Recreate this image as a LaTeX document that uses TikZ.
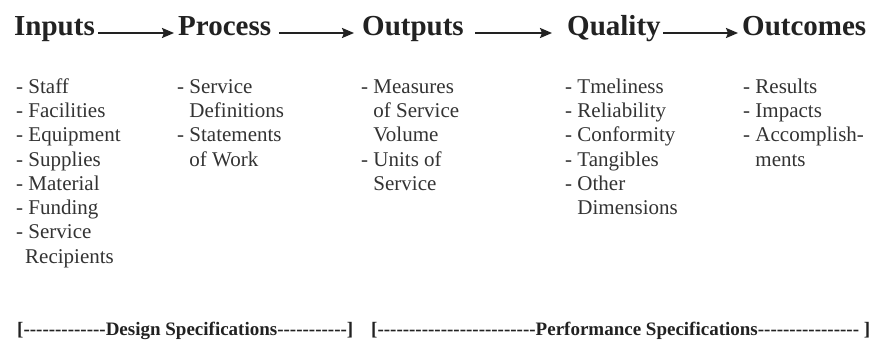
\documentclass[tikz,border=0pt]{standalone}
\usepackage{fontspec}
\setmainfont{Liberation Serif}[Ligatures=TeXOff]
\usetikzlibrary{arrows.meta}
\definecolor{ink}{HTML}{222222}
\definecolor{bodyink}{HTML}{333333}
\begin{document}
\begin{tikzpicture}[x=1pt,y=-1pt,
  head/.style={anchor=base west,inner sep=0pt,font=\fontsize{29}{34}\selectfont\bfseries,text=ink},
  listbox/.style={anchor=north west,inner sep=0pt,align=left,font=\fontsize{21}{24.3}\selectfont,text=bodyink},
  arr/.style={-{Stealth[length=12pt,width=10pt,inset=2pt]},line width=2pt,draw=ink},
  spec/.style={inner sep=0pt,anchor=base west,font=\fontsize{19}{23}\selectfont\bfseries,text=ink}]
\useasboundingbox[fill=white] (0,0) rectangle (878,344);
% headings
\node[head] (inputs)   at (14,36)  {Inputs};
\node[head] (process)  at (178,36) {Process};
\node[head] (outputs)  at (362,36) {Outputs};
\node[head] (quality)  at (567,36) {Quality};
\node[head] (outcomes) at (742,36) {Outcomes};
% arrows
\draw[arr] ([shift={(3.4pt,3pt)}]inputs.base east) -- ([shift={(-4pt,3pt)}]process.base west);
\draw[arr] ([shift={(7.6pt,3pt)}]process.base east) -- ([shift={(-8pt,3pt)}]outputs.base west);
\draw[arr] ([shift={(11.5pt,3pt)}]outputs.base east) -- ([shift={(-15pt,3pt)}]quality.base west);
\draw[arr] ([shift={(2.5pt,3pt)}]quality.base east) -- ([shift={(-4pt,3pt)}]outcomes.base west);
% lists
\node[listbox] (inlist) at (16,77) {\rule{0pt}{16pt}- Staff\\- Facilities\\- Equipment\\- Supplies\\- Material\\- Funding\\- Service\\\hspace{9pt}Recipients};
\node[listbox] (proclist) at (177,77) {\rule{0pt}{16pt}- Service\\\hphantom{- }Definitions\\- Statements\\\hphantom{- }of Work};
\node[listbox] (outlist) at (361,77) {\rule{0pt}{16pt}- Measures\\\hphantom{- }of Service\\\hphantom{- }Volume\\- Units of\\\hphantom{- }Service};
\node[listbox] (qualist) at (565,77) {\rule{0pt}{16pt}- Tmeliness\\- Reliability\\- Conformity\\- Tangibles\\- Other\\\hphantom{- }Dimensions};
\node[listbox] (outclist) at (743,77) {\rule{0pt}{16pt}- Results\\- Impacts\\- Accomplish-\\\hphantom{- }ments};
% specifications
\node[spec] (design) at (17,336) {[-------------Design Specifications-----------]};
\node[spec] (perf) at (371,336) {[-------------------------Performance Specifications---------------- ]};
\end{tikzpicture}
\end{document}
